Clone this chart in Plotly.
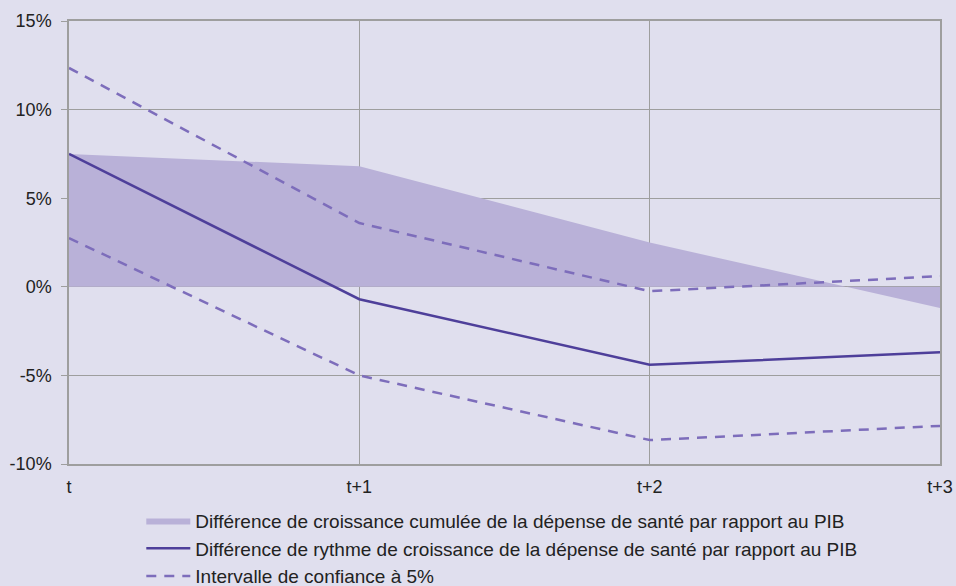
import plotly.graph_objects as go

categories = ["t", "t+1", "t+2", "t+3"]
cumulee = [7.5, 6.8, 2.5, -1.2]
rythme = [7.5, -0.7, -4.4, -3.7]
ic_haut = [12.35, 3.6, -0.25, 0.6]
ic_bas = [2.75, -5.0, -8.65, -7.85]
y_ticks = [-10, -5, 0, 5, 10, 15]
y_labels = ["-10%", "-5%", "0%", "5%", "10%", "15%"]

bg = "#E0DFEE"
fig = go.Figure()
fig.add_trace(go.Scatter(
    x=categories, y=cumulee, mode="lines", fill="tozeroy",
    fillcolor="#B9B1D8", line=dict(width=0, color="#B9B1D8"),
    name="Différence de croissance cumulée de la dépense de santé par rapport au PIB"))
fig.add_trace(go.Scatter(
    x=categories, y=rythme, mode="lines",
    line=dict(color="#4E3F9A", width=2.5),
    name="Différence de rythme de croissance de la dépense de santé par rapport au PIB"))
fig.add_trace(go.Scatter(
    x=categories, y=ic_haut, mode="lines", legendgroup="ic",
    line=dict(color="#7D6DBB", width=2.5, dash="10px,8px"),
    name="Intervalle de confiance à 5%"))
fig.add_trace(go.Scatter(
    x=categories, y=ic_bas, mode="lines", legendgroup="ic", showlegend=False,
    line=dict(color="#7D6DBB", width=2.5, dash="10px,8px"),
    name="Intervalle de confiance à 5%"))

fig.update_layout(
    width=956, height=586,
    paper_bgcolor=bg, plot_bgcolor=bg,
    margin=dict(l=69, r=16, t=21, b=122, autoexpand=False),
    font=dict(family="Liberation Sans, Arial, sans-serif", size=18, color="#222222"),
    showlegend=True,
    legend=dict(
        x=0.083, xanchor="left", y=-0.085, yanchor="top",
        bgcolor="rgba(0,0,0,0)", font=dict(size=19),
        traceorder="normal", tracegroupgap=0, itemwidth=44,
    ),
)
fig.update_xaxes(
    range=[0, 3], showgrid=True, gridcolor="#9E9E9E", gridwidth=1,
    showline=True, linecolor="#9E9E9E", linewidth=1.5, mirror=True,
    ticks="", zeroline=False, tickfont=dict(size=18), automargin=False,
    ticklabelstandoff=6,
)
fig.update_yaxes(
    range=[-10, 15], tickvals=y_ticks, ticktext=y_labels,
    showgrid=True, gridcolor="#9E9E9E", gridwidth=1,
    showline=True, linecolor="#9E9E9E", linewidth=1.5, mirror=True,
    ticks="outside", ticklen=6, tickcolor="#9E9E9E", zeroline=False,
    tickfont=dict(size=18), automargin=False, ticklabelstandoff=6,
)
fig.write_html(
    "out.html",
    config={"displayModeBar": False},
    post_script="document.body.style.margin='0';document.body.style.overflow='hidden';",
)
